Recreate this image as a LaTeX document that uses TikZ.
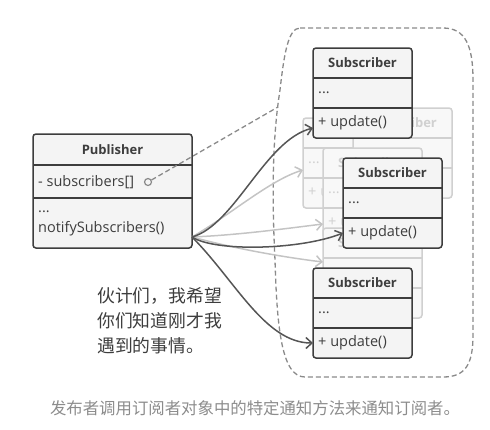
\documentclass[tikz,border=0pt]{standalone}
\usepackage{fontspec}
\setmainfont{Open Sans}
\newfontfamily\cjk{Noto Sans CJK SC}
\usetikzlibrary{arrows.meta,positioning}

\definecolor{ink}{HTML}{3D3D3D}
\definecolor{boxfill}{HTML}{F4F4F4}
\definecolor{ghostline}{HTML}{D0D0D0}
\definecolor{ghostfill}{HTML}{F8F8F8}
\definecolor{dashgray}{HTML}{8A8A8A}
\definecolor{arrowdark}{HTML}{555555}
\definecolor{arrowlight}{HTML}{C4C4C4}
\definecolor{captiongray}{HTML}{8C8C8C}

\tikzset{
  umlbox/.style={draw=ink, fill=boxfill, line width=1.5pt, rounded corners=3pt,
    inner sep=0pt, outer sep=0pt, minimum width=99pt, minimum height=90pt, anchor=north west},
  ghostbox/.style={umlbox, draw=ghostline, fill=ghostfill},
  headtext/.style={font=\fontsize{13}{15}\selectfont\bfseries, text=ink, inner sep=0pt},
  member/.style={font=\fontsize{14.5}{20}\selectfont, text=ink, anchor=west, inner sep=0pt},
  notify/.style={-{Straight Barb[length=6pt,width=11pt]}, line width=1.5pt, draw=arrowdark},
  ghostnotify/.style={notify, draw=arrowlight},
}

\begin{document}
\begin{tikzpicture}[x=1pt,y=-1pt]
\useasboundingbox (0,0) rectangle (490,429);

% group of subscribers
\draw[dashgray, line width=1.3pt, dash pattern=on 5pt off 3pt]
  (300,28) -- (443,28) .. controls (465,28) and (473,45) .. (473,80)
  -- (473,335) .. controls (473,365) and (465,377) .. (443,377)
  -- (305,377) .. controls (282,377) and (277,330) .. (275,260)
  .. controls (272,200) and (272,140) .. (280,90)
  .. controls (284,55) and (288,28) .. (300,28) -- cycle;

% faded subscribers in the back (\h: header visible, \r: rows visible)
\foreach \n/\x/\y/\h/\r in {g1/303/118/0/1, g0/353/108/1/0, g2/323/148/1/1, g3/323/228/1/0} {
  \node[ghostbox] (\n) at (\x,\y) {};
  \draw[ghostline, line width=1.5pt]
    ([yshift=-30pt]\n.north west) -- ([yshift=-30pt]\n.north east)
    ([yshift=-60pt]\n.north west) -- ([yshift=-60pt]\n.north east);
  \ifnum\h=1
    \node[headtext, text=ghostline] (\n-head) at ([yshift=-15pt]\n.north) {Subscriber};
  \fi
  \ifnum\r=1
    \node[member, text=ghostline] (\n-attr) at ([xshift=5pt,yshift=-45pt]\n.north west) {...};
    \node[member, text=ghostline] (\n-op) at ([xshift=5pt,yshift=-75pt]\n.north west) {+ update()};
  \fi
}

% publisher
\node[umlbox, minimum width=159pt, minimum height=114pt] (pub) at (33,134) {};
\draw[ink, line width=1.5pt]
  ([yshift=-31pt]pub.north west) -- ([yshift=-31pt]pub.north east)
  ([yshift=-64pt]pub.north west) -- ([yshift=-64pt]pub.north east);
\node[headtext] (pub-head) at ([yshift=-15.5pt]pub.north) {Publisher};
\node[member] (pub-attr) at ([xshift=5pt,yshift=-48pt]pub.north west) {- subscribers[]};
\node[member, align=left] (pub-op) at ([xshift=5pt,yshift=-89pt]pub.north west) {...\\notifySubscribers()};
\node[circle, draw=dashgray, line width=1.2pt, minimum size=7pt, inner sep=0pt] (link) at (148,182) {};
\coordinate (grp) at (278,107);
\draw[dashgray, line width=1.3pt, dash pattern=on 5pt off 3pt] (link) -- (grp);

\coordinate (src) at ([yshift=11pt]pub.south east);

% notifications to the faded ones
\draw[ghostnotify] (src) .. controls (230,215) and (270,180) .. ([yshift=-52pt]g1.north west);
\draw[ghostnotify] (src) .. controls (240,235) and (290,228) .. ([yshift=-76pt]g2.north west);
\draw[ghostnotify] (src) .. controls (240,250) and (290,258) .. ([yshift=-34pt]g3.north west);

% subscribers
\foreach \n/\x/\y in {s1/313/48, s2/343/158, s3/313/268} {
  \node[umlbox] (\n) at (\x,\y) {};
  \draw[ink, line width=1.5pt]
    ([yshift=-30pt]\n.north west) -- ([yshift=-30pt]\n.north east)
    ([yshift=-60pt]\n.north west) -- ([yshift=-60pt]\n.north east);
  \node[headtext] (\n-head) at ([yshift=-15pt]\n.north) {Subscriber};
  \node[member] (\n-attr) at ([xshift=5pt,yshift=-45pt]\n.north west) {...};
  \node[member] (\n-op) at ([xshift=5pt,yshift=-75pt]\n.north west) {+ update()};
}

\draw[notify] (src) .. controls (235,225) and (265,140) .. ([yshift=10pt]s1.south west);
\draw[notify] (src) .. controls (215,252) and (300,250) .. ([yshift=-75pt]s2.north west);
\draw[notify] (src) .. controls (235,280) and (265,343) .. ([yshift=-75pt]s3.north west);

\node[font=\cjk\fontsize{17.8}{25}\selectfont, text=ink, align=left, anchor=north west, inner sep=0pt]
  (speech) at (97,287) {伙计们，我希望\\你们知道刚才我\\遇到的事情。};
\node[font=\cjk\fontsize{16.4}{20}\selectfont, text=captiongray, inner sep=0pt]
  (caption) at (255,408) {发布者调用订阅者对象中的特定通知方法来通知订阅者。};
\end{tikzpicture}
\end{document}
